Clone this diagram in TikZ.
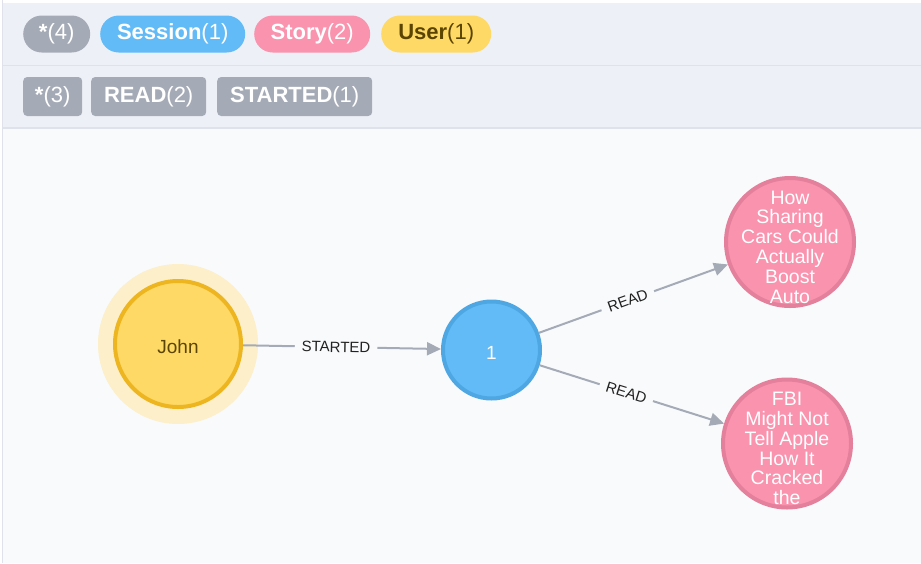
\documentclass[tikz,border=0pt]{standalone}
\usepackage{fontspec}
\setmainfont{Liberation Sans}
\usetikzlibrary{arrows.meta}
\definecolor{bgmain}{HTML}{F9FAFC}
\definecolor{bghead}{HTML}{EEF0F7}
\definecolor{divcol}{HTML}{DFE2EB}
\definecolor{pgray}{HTML}{A5ABB6}
\definecolor{pblue}{HTML}{62BBF7}
\definecolor{bblue}{HTML}{4EA6E2}
\definecolor{ppink}{HTML}{F993AE}
\definecolor{bpink}{HTML}{E47F9C}
\definecolor{pyel}{HTML}{FED966}
\definecolor{byel}{HTML}{EDB621}
\definecolor{halo}{HTML}{FCEFCA}
\definecolor{usertxt}{HTML}{5B4400}
\definecolor{edgecol}{HTML}{A5ABB6}
\definecolor{lbltxt}{HTML}{222222}
\tikzset{
  pill/.style={inner sep=0pt, minimum height=37pt, rounded corners=18.5pt, text=white, anchor=west,
    font=\fontsize{22}{26}\selectfont},
  relbox/.style={inner sep=0pt, minimum height=39pt, rounded corners=4pt, fill=pgray, text=white, anchor=west,
    font=\fontsize{22}{26}\selectfont},
  gnode/.style={circle, line width=4pt, inner sep=0pt},
  storytxt/.style={align=center, text=white, inner sep=0pt, font=\fontsize{19.5}{19.8}\selectfont},
  edge/.style={draw=edgecol, line width=2pt, -{Triangle[length=14pt,width=13pt]}},
  elabel/.style={pos=0.47, sloped, fill=bgmain, text=lbltxt, inner xsep=7pt, inner ysep=2pt,
    font=\fontsize{15}{16}\selectfont},
}
\begin{document}
\begin{tikzpicture}[x=1pt,y=-1pt]
\useasboundingbox (0,0) rectangle (921,563);
\fill[white] (0,0) rectangle (921,563);
\fill[bgmain] (3,3) rectangle (921,563);
\fill[bghead] (3,3) rectangle (921,128);
\draw[divcol, line width=1pt] (3,65) -- (921,65);
\draw[divcol, line width=1.2pt] (3,128) -- (921,128);
\draw[divcol, line width=1pt] (2.5,0) -- (2.5,563);

% label pills
\node[pill, fill=pgray, minimum width=67pt] (lall) at (23,34) {\textbf{*}(4)};
\node[pill, fill=pblue, minimum width=145pt] (lsess) at (100,34) {\textbf{Session}(1)};
\node[pill, fill=ppink, minimum width=116pt] (lstory) at (254,34) {\textbf{Story}(2)};
\node[pill, fill=pyel, text=usertxt, minimum width=110pt] (luser) at (381,34) {\textbf{User}(1)};

% relationship boxes
\node[relbox, minimum width=59pt] (rall) at (23,96.5) {\textbf{*}(3)};
\node[relbox, minimum width=115pt] (rread) at (91,96.5) {\textbf{READ}(2)};
\node[relbox, minimum width=155pt] (rstart) at (217,96.5) {\textbf{STARTED}(1)};

% graph nodes
\node[circle, fill=halo, minimum size=160pt, inner sep=0pt] (johnhalo) at (178,344) {};
\node[gnode, fill=pyel, draw=byel, minimum size=126pt, text=usertxt,
      font=\fontsize{19}{22}\selectfont] (john) at (178,344) {\raisebox{-3pt}[\height][\depth]{John}};
\node[gnode, fill=pblue, draw=bblue, minimum size=97pt, text=white,
      font=\fontsize{19}{22}\selectfont] (sess) at (491.5,350) {\raisebox{-3pt}[\height][\depth]{1}};
\node[gnode, fill=ppink, draw=bpink, minimum size=128pt] (s1) at (790,242) {};
\node[gnode, fill=ppink, draw=bpink, minimum size=128pt] (s2) at (787,443.5) {};
\node[storytxt] (s1t) at (790,247) {How\\Sharing\\Cars Could\\Actually\\Boost\\Auto};
\node[storytxt] (s2t) at (787,448.5) {FBI\\Might Not\\Tell Apple\\How It\\Cracked\\the};

% relationships
\draw[edge] (john) -- node[elabel] {STARTED} (sess);
\draw[edge] (sess) -- node[elabel] {READ} (s1);
\draw[edge] (sess) -- node[elabel] {READ} (s2);
\end{tikzpicture}
\end{document}
